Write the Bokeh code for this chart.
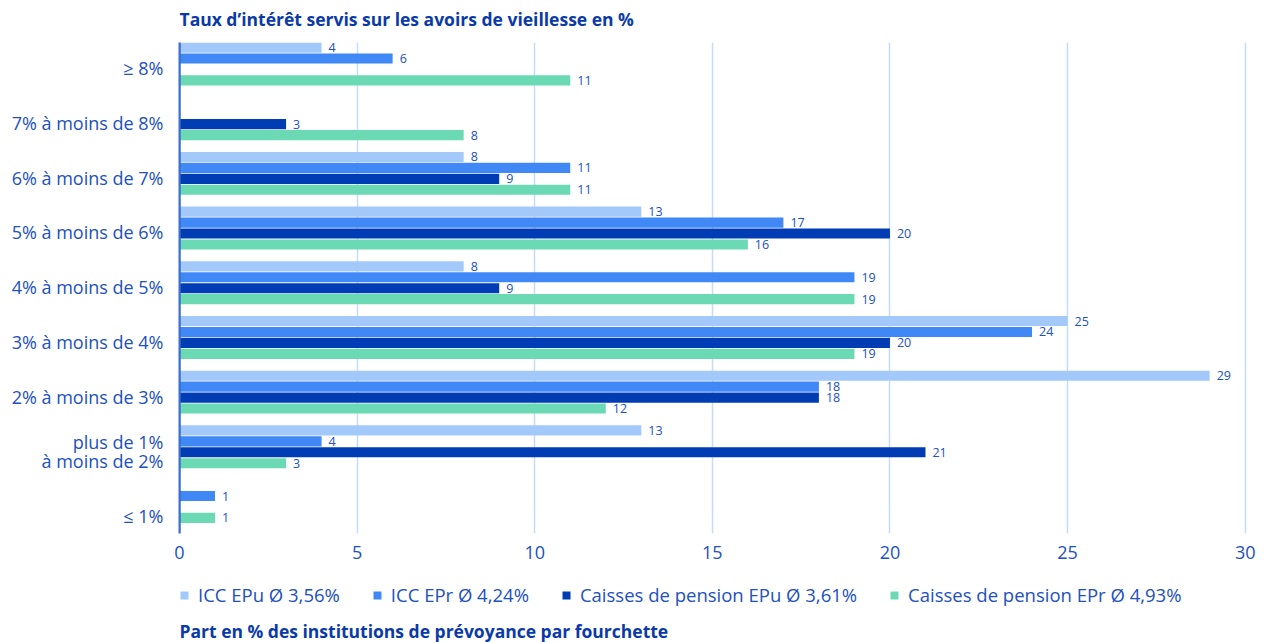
from bokeh.plotting import figure
from bokeh.layouts import column
from bokeh.models import Range1d, FixedTicker, Legend, LegendItem, Label, ColumnDataSource, Span
from bokeh.embed import file_html
from bokeh.resources import INLINE
from bokeh.core.properties import value

# ---------------- data ----------------
categories = ["≥ 8%", "7% à moins de 8%", "6% à moins de 7%", "5% à moins de 6%",
              "4% à moins de 5%", "3% à moins de 4%", "2% à moins de 3%",
              "plus de 1%\nà moins de 2%", "≤ 1%"]
series_names = ["ICC EPu Ø 3,56%", "ICC EPr Ø 4,24%",
                "Caisses de pension EPu Ø 3,61%", "Caisses de pension EPr Ø 4,93%"]
icc_epu = [4, 0, 8, 13, 8, 25, 29, 13, 0]
icc_epr = [6, 0, 11, 17, 19, 24, 18, 4, 1]
cp_epu = [0, 3, 9, 20, 9, 20, 18, 21, 0]
cp_epr = [11, 8, 11, 16, 19, 19, 12, 3, 1]
x_ticks = [0, 5, 10, 15, 20, 25, 30]
title_top = "Taux d’intérêt servis sur les avoirs de vieillesse en %"
title_bottom = "Part en % des institutions de prévoyance par fourchette"

# ---------------- style ----------------
colors = ["#a3c9fb", "#3f88f6", "#003cb3", "#6bdab4"]
text_color = "#2150c0"
title_color = "#0a3aa8"
axis_color = "#3a6fd0"
FONT = "Open Sans"

n = len(categories)
base = [n - 1 - i for i in range(n)]
offsets = [0.30, 0.10, -0.10, -0.30]
bar_h = 0.185

# ---------------- header panel (title) ----------------
p0 = figure(width=1264, height=34, output_backend="svg", toolbar_location=None,
            x_range=Range1d(0, 1), y_range=Range1d(0, 1),
            x_axis_type=None, y_axis_type=None, min_border=0,
            min_border_left=179, min_border_right=14)
p0.outline_line_color = None
p0.grid.visible = False
p0.add_layout(Label(x=0, y=16, x_units="screen", y_units="screen",
                    text=title_top, text_font=FONT, text_font_style="bold",
                    text_font_size="17.5px", text_color=title_color,
                    text_baseline="middle", text_align="left"))

# ---------------- main chart ----------------
p = figure(width=1264, height=541, output_backend="svg", toolbar_location=None,
           x_range=Range1d(0, 30.15), y_range=Range1d(-0.585, 8.393),
           min_border_left=179, min_border_right=14, min_border_top=8,
           min_border_bottom=42)
p.outline_line_color = None
p.background_fill_color = "white"

p.add_layout(Span(location=0, dimension="height", line_color=axis_color,
                  line_width=2))

series = [icc_epu, icc_epr, cp_epu, cp_epr]
for k, vals in enumerate(series):
    ys = [b + offsets[k] for b, v in zip(base, vals) if v > 0]
    xs = [v for v in vals if v > 0]
    src = ColumnDataSource(dict(y=ys, x=xs, t=[str(v) for v in xs]))
    p.hbar(y="y", right="x", left=0, height=bar_h, source=src,
           fill_color=colors[k], line_color=None)
    p.text(x="x", y="y", text="t", source=src, x_offset=7,
           text_align="left", text_baseline="middle",
           text_font=value(FONT), text_font_size="12.5px", text_color=text_color)

# y axis with labels at category positions
label_shift = [-0.08] * (n - 1) + [-0.26]
tick_pos = [round(b + s, 3) for b, s in zip(base, label_shift)]
p.yaxis.ticker = FixedTicker(ticks=tick_pos)
p.yaxis.major_label_overrides = {t: c for t, c in zip(tick_pos, categories)}
p.yaxis.axis_line_color = axis_color
p.yaxis.axis_line_width = 2
p.yaxis.major_tick_line_color = None
p.yaxis.minor_tick_line_color = None
p.yaxis.major_label_text_color = text_color
p.yaxis.major_label_text_font = FONT
p.yaxis.major_label_text_font_size = "18px"
p.yaxis.major_label_text_line_height = 0.8
p.yaxis.major_label_standoff = 10

p.xaxis.ticker = FixedTicker(ticks=x_ticks)
p.xaxis.axis_line_color = None
p.xaxis.major_tick_line_color = None
p.xaxis.minor_tick_line_color = None
p.xaxis.major_label_text_color = text_color
p.xaxis.major_label_text_font = FONT
p.xaxis.major_label_text_font_size = "18px"
p.xaxis.major_label_standoff = 6

p.ygrid.grid_line_color = None
p.xgrid.grid_line_color = "#c5dcf8"
p.xgrid.grid_line_width = 1.5

# ---------------- legend + bottom caption panel ----------------
p2 = figure(width=1264, height=67, output_backend="svg", toolbar_location=None,
            x_range=Range1d(0, 1), y_range=Range1d(0, 1),
            x_axis_type=None, y_axis_type=None, min_border=0,
            min_border_left=179, min_border_right=14)
p2.outline_line_color = None
p2.grid.visible = False
items = []
for k in range(len(series_names)):
    # off-range placeholder renderer, only used for the legend swatch
    r = p2.hbar(y=[-10], right=[1], left=0, height=0.1,
                fill_color=colors[k], line_color=None)
    items.append(LegendItem(label=series_names[k], renderers=[r]))
legend = Legend(items=items, orientation="horizontal", location=(0, 35),
                margin=0, padding=0, spacing=32, label_standoff=9,
                glyph_width=10, glyph_height=10, label_height=20,
                label_text_font=FONT, label_text_font_size="18.5px",
                label_text_color=text_color, border_line_color=None,
                background_fill_alpha=0)
p2.add_layout(legend, "center")
p2.add_layout(Label(x=0, y=12, x_units="screen", y_units="screen",
                    text=title_bottom, text_font=FONT, text_font_style="bold",
                    text_font_size="17.5px", text_color=title_color,
                    text_baseline="middle", text_align="left"))

layout = column(p0, p, p2, spacing=0)
open("out.html", "w").write(file_html(layout, INLINE))
